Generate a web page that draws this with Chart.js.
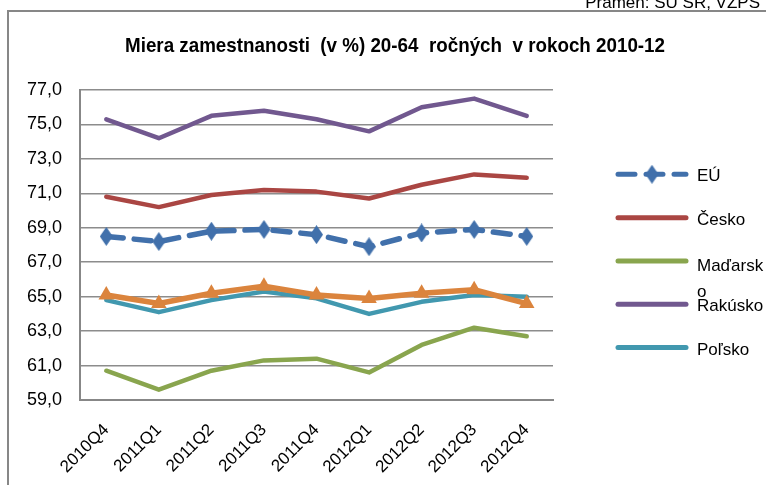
<!DOCTYPE html>
<html>
<head>
<meta charset="utf-8">
<script src="https://cdn.jsdelivr.net/npm/chart.js@4.4.0/dist/chart.umd.min.js"></script>
<style>
  body { margin: 0; background: #fff; }
  #wrap { width: 766px; height: 485px; }
</style>
</head>
<body>
<div id="wrap"><canvas id="chart" width="766" height="485"></canvas></div>
<script>
// ==== DATA ====
const quarters = ["2010Q4", "2011Q1", "2011Q2", "2011Q3", "2011Q4", "2012Q1", "2012Q2", "2012Q3", "2012Q4"];
const eu       = [68.5, 68.2, 68.8, 68.9, 68.6, 67.9, 68.7, 68.9, 68.5];
const cesko    = [70.8, 70.2, 70.9, 71.2, 71.1, 70.7, 71.5, 72.1, 71.9];
const madarsko = [60.7, 59.6, 60.7, 61.3, 61.4, 60.6, 62.2, 63.2, 62.7];
const rakusko  = [75.3, 74.2, 75.5, 75.8, 75.3, 74.6, 76.0, 76.5, 75.5];
const polsko   = [64.8, 64.1, 64.8, 65.3, 64.9, 64.0, 64.7, 65.1, 65.0];
const slovensko = [65.1, 64.6, 65.2, 65.6, 65.1, 64.9, 65.2, 65.4, 64.6];
const yTicks = { min: 59, max: 77, step: 2 };
const legendNames = ["EÚ", "Česko", "Maďarsko", "Rakúsko", "Poľsko"];

const FONT = "'Liberation Sans', Arial, sans-serif";

// vertical diamond marker for EU
function diamond(w, h, color) {
  const c = document.createElement("canvas");
  c.width = w; c.height = h;
  const g = c.getContext("2d");
  g.fillStyle = color;
  g.beginPath();
  g.moveTo(w / 2, 0); g.lineTo(w, h / 2); g.lineTo(w / 2, h); g.lineTo(0, h / 2);
  g.closePath(); g.fill();
  return c;
}
const euMarker = diamond(13, 19, "#4170AB");

const lineBase = { fill: false, tension: 0, borderCapStyle: "round", borderJoinStyle: "round", pointRadius: 0, borderWidth: 4.5 };

// ==== FRAME, TITLE, SOURCE, LEGEND ====
const decor = {
  id: "decor",
  beforeDraw(chart) {
    const ctx = chart.ctx;
    ctx.save();
    ctx.strokeStyle = "#878787";
    ctx.lineWidth = 2;
    ctx.strokeRect(8, 11, 780, 500);
    ctx.fillStyle = "#000";
    ctx.font = "17px " + FONT;
    ctx.textAlign = "right";
    ctx.textBaseline = "alphabetic";
    ctx.fillText("Prameň: ŠÚ SR, VZPS", 760, 8);
    // narrow bold title
    ctx.font = "bold 21px " + FONT;
    ctx.textAlign = "center";
    ctx.textBaseline = "alphabetic";
    const title = "Miera zamestnanosti  (v %) 20-64  ročných  v rokoch 2010-12";
    const sx = 540 / ctx.measureText(title).width;
    ctx.translate(395, 51.5);
    ctx.scale(sx, 1);
    ctx.fillText(title, 0, 0);
    ctx.restore();
  },
  afterDraw(chart) {
    const ctx = chart.ctx;
    ctx.save();
    ctx.font = "17px " + FONT;
    ctx.textBaseline = "middle";
    ctx.textAlign = "left";
    legendNames.forEach((name, i) => {
      const ds = chart.data.datasets[i];
      const y = 174.3 + i * 43.33;
      ctx.strokeStyle = ds.borderColor;
      ctx.lineWidth = 5;
      ctx.lineCap = "round";
      ctx.setLineDash(ds.borderDash || []);
      ctx.beginPath();
      ctx.moveTo(618, y); ctx.lineTo(686, y);
      ctx.stroke();
      ctx.setLineDash([]);
      if (ds.pointStyle && ds.pointRadius) {
        ctx.drawImage(ds.pointStyle, 652 - 6.5, y - 9.5);
      }
      // wrap text by characters to the canvas edge
      const maxW = 766 - 697 - 1;
      let lines = [], cur = "";
      for (const ch of name) {
        if (ctx.measureText(cur + ch).width > maxW && cur) { lines.push(cur); cur = ch; }
        else cur += ch;
      }
      lines.push(cur);
      ctx.fillStyle = "#000";
      lines.forEach((l, k) => ctx.fillText(l, 697, y + (lines.length > 1 ? 5 : 2.5) + k * 26));
    });
    ctx.restore();
  }
};

new Chart(document.getElementById("chart"), {
  type: "line",
  data: {
    labels: quarters,
    datasets: [
      { ...lineBase, label: "EÚ", data: eu, borderColor: "#4170AB", borderWidth: 5.5,
        borderDash: [17, 11], pointStyle: euMarker, pointRadius: 9 },
      { ...lineBase, label: "Česko", data: cesko, borderColor: "#AA4643" },
      { ...lineBase, label: "Maďarsko", data: madarsko, borderColor: "#89A54E" },
      { ...lineBase, label: "Rakúsko", data: rakusko, borderColor: "#71588F" },
      { ...lineBase, label: "Poľsko", data: polsko, borderColor: "#4198AF" },
      { ...lineBase, label: "Slovensko", data: slovensko, borderColor: "#DB843D", borderWidth: 5.5,
        pointStyle: "triangle", pointRadius: 9, pointBackgroundColor: "#DB843D", pointBorderWidth: 0, order: -1 }
    ]
  },
  options: {
    responsive: false,
    animation: false,
    layout: { padding: { left: 0, top: 90, right: 213, bottom: 0 } },
    plugins: { legend: { display: false }, title: { display: false }, tooltip: { enabled: false } },
    scales: {
      x: {
        offset: true,
        grid: { display: false, drawTicks: false },
        border: { display: true, color: "#878787", width: 2 },
        ticks: { color: "#000", font: { family: FONT, size: 17 }, minRotation: 45, maxRotation: 45, padding: 20 },
        afterFit(s) { s.height = 85; }
      },
      y: {
        min: yTicks.min, max: yTicks.max,
        grid: { color: "#8c8c8c", lineWidth: 1.6, drawTicks: false },
        border: { display: true, color: "#878787", width: 2 },
        ticks: { stepSize: yTicks.step, color: "#000", padding: 18, font: { family: FONT, size: 18 },
          callback: v => v.toFixed(1).replace(".", ",") },
        afterFit(s) { s.width = 80; }
      }
    }
  },
  plugins: [decor]
});
</script>
</body>
</html>
